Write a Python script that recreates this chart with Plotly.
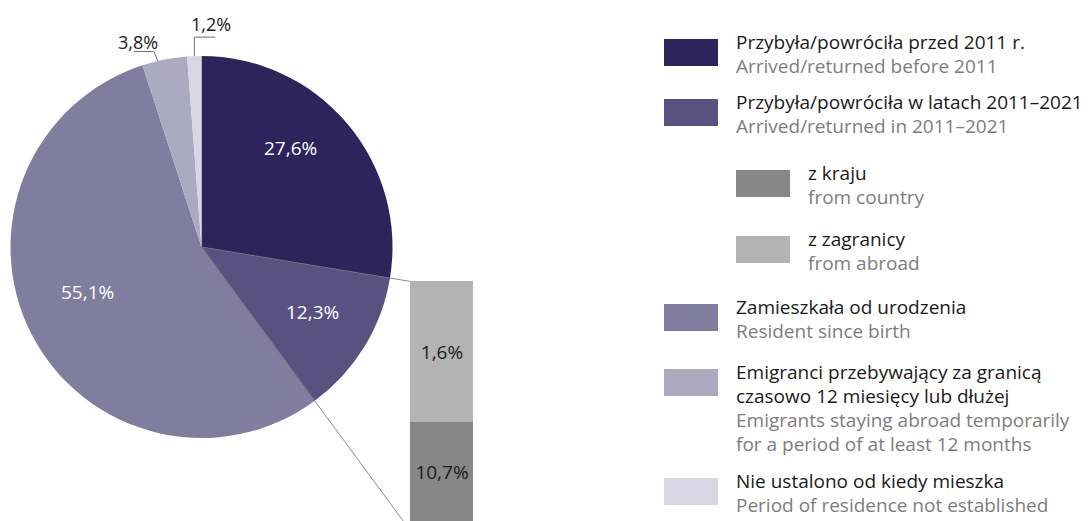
import math
import plotly.graph_objects as go

# Population by period of residence in the current place
labels_pl = [
    "Przybyła/powróciła przed 2011 r.",
    "Przybyła/powróciła w latach 2011–2021",
    "Zamieszkała od urodzenia",
    "Emigranci przebywający za granicą<br>czasowo 12 miesięcy lub dłużej",
    "Nie ustalono od kiedy mieszka",
]
labels_en = [
    "Arrived/returned before 2011",
    "Arrived/returned in 2011–2021",
    "Resident since birth",
    "Emigrants staying abroad temporarily<br>for a period of at least 12 months",
    "Period of residence not established",
]
shares = [27.6, 12.3, 55.1, 3.8, 1.2]
pie_colors = ["#2d245c", "#59517f", "#817d9f", "#acaac1", "#d8d6e3"]

# Breakdown of arrivals in 2011–2021 by origin
origin_pl = ["z kraju", "z zagranicy"]
origin_en = ["from country", "from abroad"]
origin_shares = [10.7, 1.6]
origin_colors = ["#878787", "#b3b3b3"]

W, H = 1090, 521
FONT = "Open Sans"
BLACK = "#1a1a1a"
GREY_TXT = "#7d7d7d"
LINE = "#6f6f6f"


def fx(x):
    return x / W


def fy(y):
    return 1 - y / H


def pct(v):
    return f"{v:.1f}%".replace(".", ",")


# Pie placement (pixels)
PIE_L, PIE_R, PIE_T, PIE_B = 10, 393, 56, 438
cx, cy = (PIE_L + PIE_R) / 2, (PIE_T + PIE_B) / 2
R = min(PIE_R - PIE_L, PIE_B - PIE_T) / 2

total = sum(shares)
bounds = [0.0]
for s in shares:
    bounds.append(bounds[-1] + s)


def ang(frac):
    return 2 * math.pi * frac / total


def point(theta, r):
    return cx + r * math.sin(theta), cy - r * math.cos(theta)


fig = go.Figure()

fig.add_trace(go.Pie(
    values=shares,
    labels=[l.replace("<br>", " ") for l in labels_pl],
    sort=False,
    direction="clockwise",
    rotation=0,
    marker=dict(colors=pie_colors, line=dict(width=0)),
    textinfo="none",
    hoverinfo="label+value",
    showlegend=False,
    domain=dict(x=[fx(PIE_L), fx(PIE_R)], y=[fy(PIE_B), fy(PIE_T)]),
))

# Stacked breakdown column (pixels)
BAR_L, BAR_R, BAR_T, BAR_SPLIT = 410, 473, 281, 422
seg_edges = [0, H - BAR_SPLIT, H - BAR_T]
fig.add_trace(go.Heatmap(
    z=[[origin_shares[0]], [origin_shares[1]]],
    x=[0, 1],
    y=seg_edges,
    zmin=min(origin_shares), zmax=max(origin_shares),
    colorscale=[[0, origin_colors[1]], [1, origin_colors[0]]],
    showscale=False,
    texttemplate="%{z:.1f}%",
    textfont=dict(family=FONT, size=19, color=BLACK),
    hoverinfo="skip",
    xaxis="x2", yaxis="y2",
))

annotations = []
shapes = []

# Labels inside the three large slices (radial placement plus a small nudge)
inner_nudge = [(-10, -15), (0, -3), (2, -14)]
for i in range(3):
    mid = ang((bounds[i] + bounds[i + 1]) / 2)
    x, y = point(mid, R * 0.68)
    x += inner_nudge[i][0]
    y += inner_nudge[i][1]
    annotations.append(dict(
        x=fx(x), y=fy(y), xref="paper", yref="paper",
        text=pct(shares[i]), showarrow=False,
        font=dict(family=FONT, size=19, color="white"),
        xanchor="center", yanchor="middle",
    ))

# 3.8% slice: leader leaves the rim, bends up-left, then runs left under the label
i = 3
th = ang(bounds[i] + 0.35 * shares[i])
ex, ey = point(th, R)
kx, ky = ex - 4, ey - 9.5
shapes.append(dict(type="path", xref="paper", yref="paper",
                   path=f"M {fx(ex)} {fy(ey)} L {fx(kx)} {fy(ky)} L {fx(kx - 20)} {fy(ky)}",
                   line=dict(color=LINE, width=1)))
annotations.append(dict(x=fx(kx + 6), y=fy(ky - 10), xref="paper", yref="paper",
                        text=pct(shares[i]), showarrow=False, xanchor="right", yanchor="middle",
                        font=dict(family=FONT, size=18, color=BLACK)))

# 1.2% slice: leader goes straight up from the rim, then right under the label
i = 4
th = ang((bounds[i] + bounds[i + 1]) / 2)
ex, ey = point(th, R)
kx, ky = ex, ey - 19
shapes.append(dict(type="path", xref="paper", yref="paper",
                   path=f"M {fx(kx)} {fy(ey)} L {fx(kx)} {fy(ky)} L {fx(kx + 21)} {fy(ky)}",
                   line=dict(color=LINE, width=1)))
annotations.append(dict(x=fx(kx - 5), y=fy(ky - 13), xref="paper", yref="paper",
                        text=pct(shares[i]), showarrow=False, xanchor="left", yanchor="middle",
                        font=dict(family=FONT, size=18, color=BLACK)))

# Connectors from the 2011–2021 slice to the breakdown column
for b in (bounds[1], bounds[2]):
    th = ang(b)
    t = (BAR_L - cx) / math.sin(th)
    ex, ey = cx + t * math.sin(th), cy - t * math.cos(th)
    shapes.append(dict(type="line", xref="paper", yref="paper",
                       x0=fx(cx), y0=fy(cy), x1=fx(ex), y1=fy(ey),
                       line=dict(color=LINE, width=0.8)))

# Legend block
SQ_W, SQ_H = 54, 27
TEXT_SIZE = 19
LINE_GAP = 24


def legend_entry(sq_x, sq_y, color, pl_lines, en_lines):
    shapes.append(dict(type="rect", xref="paper", yref="paper",
                       x0=fx(sq_x), x1=fx(sq_x + SQ_W), y0=fy(sq_y + SQ_H), y1=fy(sq_y),
                       fillcolor=color, line=dict(width=0)))
    tx = sq_x + SQ_W + 16
    y = sq_y + 3
    for ln in pl_lines:
        annotations.append(dict(x=fx(tx), y=fy(y), xref="paper", yref="paper", text=ln,
                                showarrow=False, xanchor="left", yanchor="middle",
                                font=dict(family=FONT, size=TEXT_SIZE, color=BLACK)))
        y += LINE_GAP
    for ln in en_lines:
        annotations.append(dict(x=fx(tx), y=fy(y), xref="paper", yref="paper", text=ln,
                                showarrow=False, xanchor="left", yanchor="middle",
                                font=dict(family=FONT, size=TEXT_SIZE, color=GREY_TXT)))
        y += LINE_GAP


LEG_X, SUB_X = 664, 736
legend_entry(LEG_X, 39, pie_colors[0], [labels_pl[0]], [labels_en[0]])
legend_entry(LEG_X, 99, pie_colors[1], [labels_pl[1]], [labels_en[1]])
legend_entry(SUB_X, 170, origin_colors[0], [origin_pl[0]], [origin_en[0]])
legend_entry(SUB_X, 236, origin_colors[1], [origin_pl[1]], [origin_en[1]])
legend_entry(LEG_X, 304, pie_colors[2], [labels_pl[2]], [labels_en[2]])
legend_entry(LEG_X, 369, pie_colors[3], labels_pl[3].split("<br>"), labels_en[3].split("<br>"))
legend_entry(LEG_X, 478, pie_colors[4], [labels_pl[4]], [labels_en[4]])

fig.update_layout(
    width=W, height=H,
    margin=dict(l=0, r=0, t=0, b=0),
    paper_bgcolor="white", plot_bgcolor="white",
    separators=", ",
    font=dict(family=FONT),
    xaxis2=dict(domain=[fx(BAR_L), fx(BAR_R)], range=[0, 1], visible=False, fixedrange=True),
    yaxis2=dict(domain=[0, fy(BAR_T)], range=[seg_edges[0], seg_edges[-1]], visible=False,
                fixedrange=True, anchor="x2"),
    xaxis=dict(visible=False), yaxis=dict(visible=False),
    shapes=shapes,
    annotations=annotations,
)

fig.write_html("out.html")
